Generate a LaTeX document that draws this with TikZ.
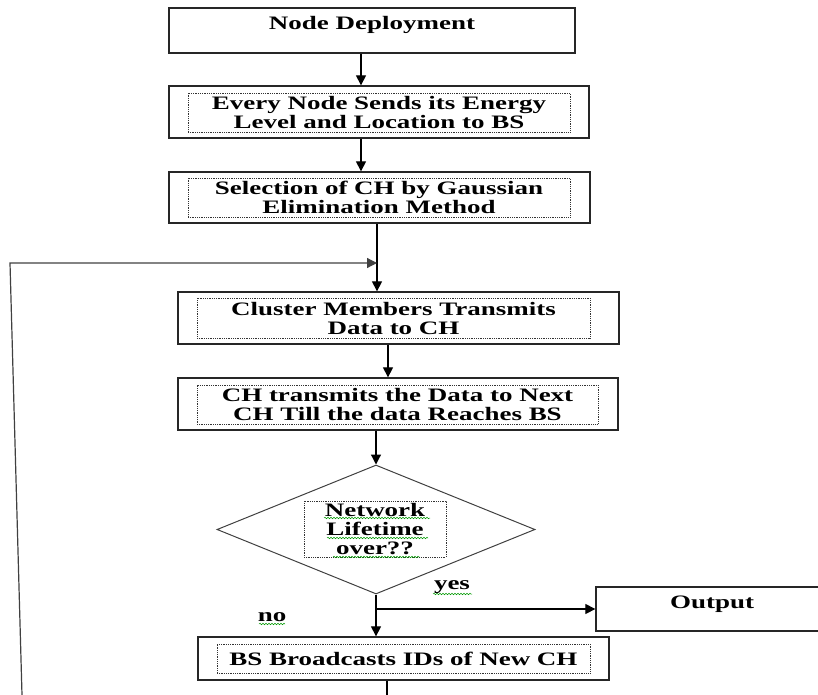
\documentclass[tikz,border=0pt]{standalone}
\usepackage{fontspec}
\setmainfont{Liberation Serif}[FakeStretch=1.42]
\usepackage{tikz}
\usetikzlibrary{shapes.geometric, arrows.meta}
\usetikzlibrary{decorations.pathmorphing}

\tikzset{
  outerbox/.style={draw=black!85, line width=1.3pt, rectangle, inner sep=0pt},
  innerbox/.style={draw=black!80, densely dotted, line width=0.8pt, rectangle, inner sep=0pt, align=center},
  arr/.style={-{Triangle[length=10pt, width=10pt]}, line width=1.2pt},
  spellmark/.style={green!60!black, line width=0.5pt, decorate, decoration={snake, amplitude=0.8pt, segment length=3pt}}
}

\begin{document}
\begin{tikzpicture}[x=1pt, y=-1pt, font={\fontsize{19}{19}\selectfont\bfseries}]
    \useasboundingbox (0,0) rectangle (818,695);

    % first step
    \node[outerbox, minimum width=406pt, minimum height=45pt] (deploy) at (372,30.5) {};
    \node (deploytext) at (372,25) {Node Deployment};

    % energy and location to BS
    \node[outerbox, minimum width=420pt, minimum height=52pt] (energy) at (379,112) {};
    \node[innerbox, minimum width=382pt, minimum height=39pt] (energytext) at (379,112.5)
        {Every Node Sends its Energy\\Level and Location to BS};

    % CH selection
    \node[outerbox, minimum width=421pt, minimum height=51pt] (select) at (379.5,197.5) {};
    \node[innerbox, minimum width=382pt, minimum height=39pt] (selecttext) at (379,197.5)
        {Selection of CH by Gaussian\\Elimination Method};

    % members send data
    \node[outerbox, minimum width=441pt, minimum height=52pt] (members) at (398.5,318) {};
    \node[innerbox, minimum width=393pt, minimum height=40pt] (memberstext) at (393.5,318)
        {Cluster Members Transmits\\Data to CH};

    % CH forwards data
    \node[outerbox, minimum width=440pt, minimum height=52pt] (transmit) at (398,404) {};
    \node[innerbox, minimum width=401pt, minimum height=39pt] (transmittext) at (397.5,404.5)
        {CH transmits the Data to Next\\CH Till the data Reaches BS};

    % decision
    \node[diamond, draw=black!75, line width=1pt, minimum width=318pt, minimum height=129pt, inner sep=0pt] (decision) at (376,529.5) {};
    \node[innerbox, minimum width=142pt, minimum height=56pt] (decisiontext) at (375,529)
        {Network\\Lifetime\\over??};

    % output
    \node[outerbox, minimum width=226pt, minimum height=44pt] (output) at (709,609) {};
    \node (outputtext) at (712,604) {Output};

    % new CH
    \node[outerbox, minimum width=411pt, minimum height=43pt] (bsnode) at (403.5,658.5) {};
    \node[innerbox, minimum width=373pt, minimum height=29pt] (bstext) at (403.5,658.5)
        {BS Broadcasts IDs of New CH};

    % branch labels
    \node (yes) at (452,587) {yes};
    \node (no) at (272,617) {no};

    % loop points
    \coordinate (join) at (377,263);
    \coordinate (cornerL) at (10,263);
    \coordinate (bottomL) at (22,695);
    \coordinate (bottomR) at (387,695);

    % arrows down the chart
    \draw[arr] ([xshift=-11pt]deploy.south) -- ([xshift=-18pt]energy.north);
    \draw[arr] ([xshift=-18pt]energy.south) -- ([xshift=-18.5pt]select.north);
    \draw[arr] ([xshift=-2.5pt]select.south) -- ([xshift=-21.5pt]members.north);
    \draw[arr] ([xshift=-10.5pt]members.south) -- ([xshift=-10pt]transmit.north);
    \draw[arr] ([xshift=-22pt]transmit.south) -- (decision.north);
    \draw[arr] (decision.south) -- ([xshift=-27.5pt]bsnode.north);
    \draw[arr] (decision.south |- output.west) -- (output.west);

    % loop back
    \draw[line width=1.2pt] ([xshift=-16.5pt]bsnode.south) -- (bottomR);
    \draw[arr, draw=black!75] (bottomL) -- (cornerL) -- (join);

    % spell check marks
    \draw[spellmark] (324,518) -- (430,518);
    \draw[spellmark] (327,538) -- (428,538);
    \draw[spellmark] (333,557) -- (420,557);
    \draw[spellmark] (433,594) -- (472,594);
    \draw[spellmark] (259,624) -- (285,624);

  \end{tikzpicture}
\end{document}
